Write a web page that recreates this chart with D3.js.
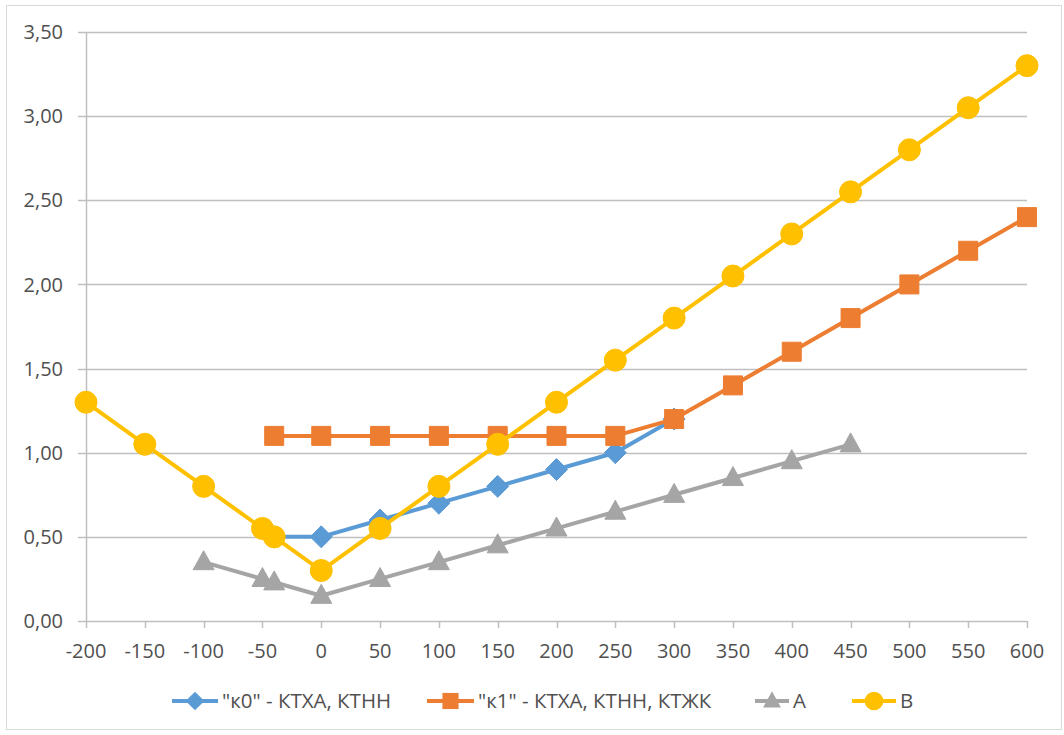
<!DOCTYPE html>
<html><head><meta charset="utf-8">
<script src="https://cdn.jsdelivr.net/npm/d3@7"></script>
<style>body{margin:0;background:#fff}text{font-family:"Open Sans","Noto Sans",sans-serif;fill:#505050}</style>
</head><body>
<svg id="c" width="1064" height="735"></svg>
<script>
const xTicks = [-200,-150,-100,-50,0,50,100,150,200,250,300,350,400,450,500,550,600];
const yTicks = [0,0.5,1,1.5,2,2.5,3,3.5];
const k0X = [-40,0,50,100,150,200,250,300];
const k0Y = [0.5,0.5,0.6,0.7,0.8,0.9,1.0,1.2];
const k1X = [-40,0,50,100,150,200,250,300,350,400,450,500,550,600];
const k1Y = [1.1,1.1,1.1,1.1,1.1,1.1,1.1,1.2,1.4,1.6,1.8,2.0,2.2,2.4];
const aX = [-100,-50,-40,0,50,100,150,200,250,300,350,400,450];
const aY = [0.35,0.25,0.23,0.15,0.25,0.35,0.45,0.55,0.65,0.75,0.85,0.95,1.05];
const bX = [-200,-150,-100,-50,-40,0,50,100,150,200,250,300,350,400,450,500,550,600];
const bY = [1.3,1.05,0.8,0.55,0.5,0.3,0.55,0.8,1.05,1.3,1.55,1.8,2.05,2.3,2.55,2.8,3.05,3.3];
const seriesNames = ['"к0" - КТХА, КТНН','"к1" - КТХА, КТНН, КТЖК','А','В'];

const svg = d3.select('#c');
svg.append('rect').attr('x',6.5).attr('y',5.5).attr('width',1055).attr('height',724).attr('fill','#fff').attr('stroke','#d9d9d9');
const x = d3.scaleLinear().domain([-200,600]).range([86,1027]);
const y = d3.scaleLinear().domain([0,3.5]).range([621,32]);

svg.append('g').selectAll('line').data(yTicks).join('line')
  .attr('x1',78).attr('x2',1027).attr('y1',d=>Math.round(y(d))+0.5).attr('y2',d=>Math.round(y(d))+0.5)
  .attr('stroke','#bfbfbf').attr('stroke-width',1.5);
svg.append('line').attr('x1',86.5).attr('x2',86.5).attr('y1',32).attr('y2',621).attr('stroke','#bfbfbf').attr('stroke-width',1.5);
svg.append('g').selectAll('line').data(xTicks).join('line')
  .attr('x1',d=>Math.round(x(d))+0.5).attr('x2',d=>Math.round(x(d))+0.5).attr('y1',621).attr('y2',628)
  .attr('stroke','#bfbfbf').attr('stroke-width',1.5);
const fmt = d=>d3.format('.2f')(d).replace('.',',');
svg.append('g').selectAll('text').data(yTicks).join('text')
  .attr('x',63).attr('y',d=>y(d)).attr('dy','0.36em').attr('text-anchor','end').attr('font-size',20).text(fmt);
svg.append('g').selectAll('text').data(xTicks).join('text')
  .attr('x',d=>x(d)).attr('y',651).attr('dy','0.36em').attr('text-anchor','middle').attr('font-size',20).text(d=>d);

const colors = ['#5b9bd5','#ed7d31','#a5a5a5','#ffc000'];
const data = [[k0X,k0Y],[k1X,k1Y],[aX,aY],[bX,bY]];
function marker(i, k){
  k = k || 1;
  if(i===0){const r=11*k;return `M0,${-r}L${r},0L0,${r}L${-r},0Z`;}
  if(i===1){const h=9.5*k;return `M${-h},${-h}H${h}V${h}H${-h}Z`;}
  if(i===2){const w=10.5*k,h=19*k;return `M0,${-h*0.6}L${w},${h*0.4}L${-w},${h*0.4}Z`;}
  const r=11*k;return `M${r},0A${r},${r} 0 1,1 ${-r},0A${r},${r} 0 1,1 ${r},0Z`;
}
const line = d3.line().x(d=>x(d[0])).y(d=>y(d[1]));
data.forEach((s,i)=>{
  const pts = s[0].map((v,j)=>[v,s[1][j]]);
  const g = svg.append('g');
  g.append('path').attr('d',line(pts)).attr('fill','none').attr('stroke',colors[i]).attr('stroke-width',4).attr('stroke-linejoin','round');
  g.selectAll('path.m').data(pts).join('path').attr('class','m')
    .attr('transform',d=>`translate(${x(d[0])},${y(d[1])})`)
    .attr('d',marker(i)).attr('fill',colors[i]).attr('stroke',colors[i]).attr('stroke-width',1).attr('stroke-linejoin','round');
});

const lg = [[172,222],[427,478],[755,793],[852,900]];
lg.forEach((p,i)=>{
  const g = svg.append('g');
  g.append('line').attr('x1',p[0]).attr('x2',p[1]-4).attr('y1',701).attr('y2',701).attr('stroke',colors[i]).attr('stroke-width',4);
  g.append('path').attr('transform',`translate(${(p[0]+p[1]-4)/2},701)`).attr('d',marker(i,0.85)).attr('fill',colors[i]);
  g.append('text').attr('x',p[1]).attr('y',701).attr('dy','0.36em').attr('font-size',20.5).text(seriesNames[i]);
});
</script>
</body></html>
